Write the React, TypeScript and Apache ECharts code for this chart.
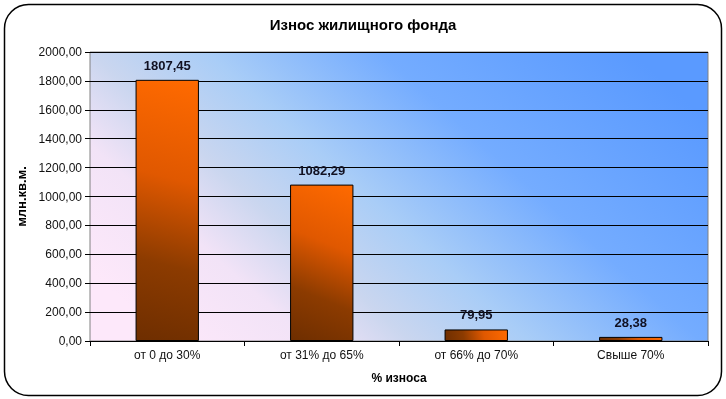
import React, { useEffect, useRef } from "react";
import * as echarts from "echarts";

const categories = ["от 0 до 30%", "от 31% до 65%", "от 66% до 70%", "Свыше 70%"];
const values = [1807.45, 1082.29, 79.95, 28.38];
const yMin = 0;
const yMax = 2000;
const yInterval = 200;
const barWidthRatio = 0.41;

const fmt = (v: number) => v.toFixed(2).replace(".", ",");

const barStops = [
  { offset: 0, color: "#6e2e00" },
  { offset: 0.3, color: "#8c3b00" },
  { offset: 0.62, color: "#e05800" },
  { offset: 1, color: "#ff6a00" },
];

// diagonal gradient (bottom-left -> top-right) perpendicular in pixel space
function barGradient(W: number, H: number) {
  const W2 = W * W;
  const H2 = Math.max(H, 1) * Math.max(H, 1);
  const p = W2 / (W2 + H2);
  const q = H2 / (W2 + H2);
  const n = p * p + q * q;
  return new echarts.graphic.LinearGradient(0, 1, p / n, 1 - q / n, barStops);
}

export default function App() {
  const ref = useRef<HTMLDivElement>(null);
  useEffect(() => {
    if (!ref.current) return;
    const chart = echarts.init(ref.current, null, { renderer: "svg" });
    const font = "'Liberation Sans', Arial, sans-serif";
    chart.setOption({
      animation: false,
      textStyle: { fontFamily: font },
      title: {
        text: "Износ жилищного фонда",
        left: "center",
        top: 12,
        textStyle: { fontFamily: font, fontSize: 15, fontWeight: "bold", color: "#000" },
      },
      graphic: [
        {
          type: "rect",
          shape: { x: 4.5, y: 4.5, width: 717, height: 391, r: 24 },
          style: { fill: "none", stroke: "#000", lineWidth: 1.5 },
          silent: true,
        },
      ],
      grid: {
        left: 90,
        right: 18,
        top: 52,
        bottom: 58,
        show: true,
        borderColor: "#808080",
        borderWidth: 1,
        backgroundColor: new echarts.graphic.LinearGradient(0, 0.76, 1, 0.24, [
          { offset: 0, color: "#fde8fa" },
          { offset: 0.18, color: "#f2e3f7" },
          { offset: 0.31, color: "#cad6ef" },
          { offset: 0.46, color: "#a9cdf7" },
          { offset: 0.68, color: "#74acff" },
          { offset: 1, color: "#5a9aff" },
        ]),
      },
      xAxis: {
        type: "category",
        data: categories,
        name: "% износа",
        nameLocation: "middle",
        nameGap: 31,
        nameTextStyle: { fontFamily: font, fontSize: 12, fontWeight: "bold", color: "#000" },
        axisLine: { lineStyle: { color: "#000", width: 1 } },
        axisTick: { show: true, length: 5, lineStyle: { color: "#000" } },
        axisLabel: { fontFamily: font, fontSize: 12, color: "#111", margin: 8 },
        splitLine: { show: false },
      },
      yAxis: {
        type: "value",
        min: yMin,
        max: yMax,
        interval: yInterval,
        name: "млн.кв.м.",
        nameLocation: "middle",
        nameGap: 51,
        nameTextStyle: { fontFamily: font, fontSize: 13, fontWeight: "bold", color: "#000" },
        axisLine: { show: false },
        axisTick: { show: true, length: 5, lineStyle: { color: "#000" } },
        axisLabel: { fontFamily: font, fontSize: 12, color: "#111", margin: 8, formatter: (v: number) => fmt(v) },
        splitLine: { show: true, lineStyle: { color: "#000", width: 1 } },
      },
      series: [
        {
          type: "bar",
          data: values,
          barWidth: barWidthRatio * 100 + "%",
          itemStyle: {
            borderColor: "#000",
            borderWidth: 1,
            color: "#b04800",
          },
          label: {
            show: true,
            position: "top",
            distance: 8,
            fontFamily: font,
            fontSize: 13,
            fontWeight: "bold",
            color: "#111122",
            formatter: (p: any) => fmt(p.value),
          },
        },
      ],
    });
    // compute per-bar gradients from the library's own scales
    const x0 = chart.convertToPixel({ xAxisIndex: 0 }, categories[0]) as number;
    const x1 = chart.convertToPixel({ xAxisIndex: 0 }, categories[1]) as number;
    const bandW = Math.abs(x1 - x0);
    const W = bandW * barWidthRatio;
    const yBase = chart.convertToPixel({ yAxisIndex: 0 }, 0) as number;
    const data = values.map((v) => {
      const yTop = chart.convertToPixel({ yAxisIndex: 0 }, v) as number;
      const H = Math.abs(yBase - yTop);
      return { value: v, itemStyle: { color: barGradient(W, H) } };
    });
    chart.setOption({ series: [{ data }] });
    return () => chart.dispose();
  }, []);
  return <div ref={ref} style={{ position: "fixed", left: 0, top: 0, width: 726, height: 399 }} />;
}
